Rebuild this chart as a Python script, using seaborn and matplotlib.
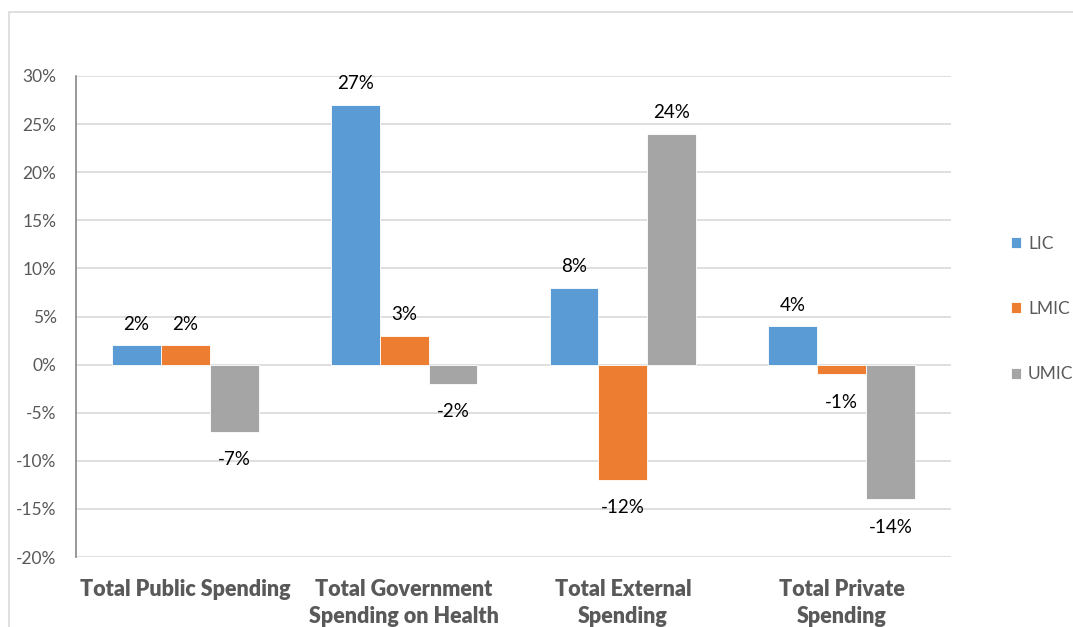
import matplotlib
matplotlib.use("Agg")
import matplotlib.pyplot as plt
from matplotlib.patches import Rectangle
import pandas as pd
import seaborn as sns

categories = ["Total Public Spending", "Total Government\nSpending on Health",
              "Total External\nSpending", "Total Private\nSpending"]
groups = ["LIC", "LMIC", "UMIC"]
lic = [2, 27, 8, 4]
lmic = [2, 3, -12, -1]
umic = [-7, -2, 24, -14]
yticks = [-20, -15, -10, -5, 0, 5, 10, 15, 20, 25, 30]
palette = ["#5B9BD5", "#ED7D31", "#A5A5A5"]

df = pd.DataFrame({
    "category": categories * 3,
    "group": [g for g in groups for _ in categories],
    "value": lic + lmic + umic,
})

sns.set_theme(style="white")
plt.rcParams["font.family"] = ["Lato", "DejaVu Sans"]

fig = plt.figure(figsize=(10.73, 6.27), dpi=100)
ax = fig.add_axes([76 / 1073, 1 - 557 / 627, (951 - 76) / 1073, (557 - 76) / 627])

sns.barplot(data=df, x="category", y="value", hue="group", hue_order=groups,
            order=categories, palette=palette, width=0.67, linewidth=0.6,
            edgecolor="white", saturation=1, ax=ax)

ax.set_ylim(-20, 30)
ax.set_yticks(yticks)
ax.set_yticklabels([f"{t}%" for t in yticks])
ax.grid(axis="y", color="#d9d9d9", linewidth=1.2)
ax.set_axisbelow(True)
for s in ["top", "right", "bottom"]:
    ax.spines[s].set_visible(False)
ax.spines["left"].set_color("#868686")
ax.spines["left"].set_linewidth(1.2)
ax.tick_params(axis="y", length=0, pad=14, labelsize=12.5, labelcolor="#595959")
ax.tick_params(axis="x", length=0, pad=16, labelsize=15.5, labelcolor="#595959")
for lbl in ax.get_xticklabels():
    lbl.set_fontweight("heavy")
    lbl.set_linespacing(1.32)
ax.set_xlabel("")
ax.set_ylabel("")

# value labels outside the end of each bar
for cont in ax.containers:
    for bar in cont:
        h = bar.get_height()
        x = bar.get_x() + bar.get_width() / 2
        if h >= 0:
            ax.annotate(f"{h:.0f}%", (x, h), xytext=(0, 9), textcoords="offset points",
                        ha="center", va="bottom", fontsize=13.5, color="black")
        else:
            ax.annotate(f"{h:.0f}%", (x, h), xytext=(0, -14), textcoords="offset points",
                        ha="center", va="top", fontsize=13.5, color="black")

handles, labels = ax.get_legend_handles_labels()
ax.legend_.remove()
fig.legend(handles, labels, loc="center left", bbox_to_anchor=(995 / 1073, 1 - 309 / 627),
           frameon=False, fontsize=12.5, labelcolor="#595959", handlelength=0.6,
           handleheight=0.6, handletextpad=0.4, labelspacing=2.85)

# chart area frame
fig.patches.append(Rectangle((9 / 1073, -0.1), 1.2, 1 - 12 / 627 + 0.1,
                             transform=fig.transFigure, fill=False,
                             edgecolor="#d9d9d9", linewidth=1.2))

fig.savefig("out.png", dpi=100)
